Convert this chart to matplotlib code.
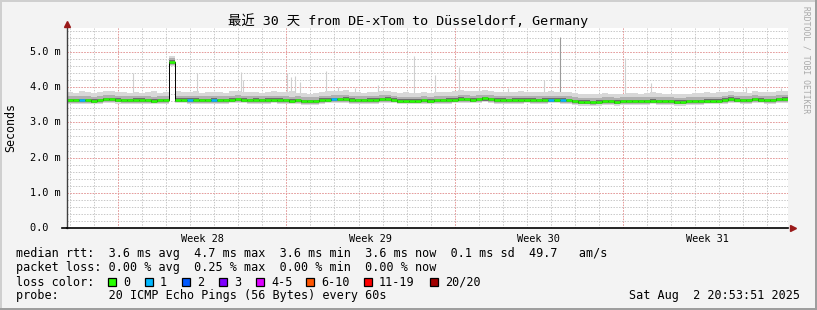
import datetime as dt
import numpy as np
import matplotlib
matplotlib.use("Agg")
import matplotlib.pyplot as plt
from matplotlib.patches import Rectangle

W, H = 817, 310
MONO = "DejaVu Sans Mono"

# time range of the graph
t_end = dt.datetime(2025, 8, 2, 20, 53, 51)
t_start = t_end - dt.timedelta(days=30)
step = 0.25  # days per sample (6 h)

# median rtt in ms, one value per 6 h
median = [
    3.63, 3.63, 3.63, 3.63, 3.62, 3.63, 3.66, 3.66, 3.65, 3.63, 3.63, 3.64, 3.64, 3.63, 3.62, 3.63, 3.63, 4.72, 3.65, 3.65,
    3.64, 3.64, 3.63, 3.63, 3.64, 3.63, 3.63, 3.65, 3.66, 3.65, 3.63, 3.64, 3.63, 3.64, 3.65, 3.64, 3.63, 3.62, 3.63, 3.61,
    3.60, 3.60, 3.64, 3.65, 3.66, 3.66, 3.67, 3.64, 3.63, 3.63, 3.64, 3.64, 3.66, 3.67, 3.65, 3.62, 3.62, 3.62, 3.62, 3.63,
    3.62, 3.63, 3.63, 3.64, 3.65, 3.67, 3.66, 3.65, 3.66, 3.68, 3.66, 3.64, 3.64, 3.63, 3.64, 3.64, 3.65, 3.64, 3.63, 3.64,
    3.65, 3.65, 3.64, 3.63, 3.61, 3.59, 3.59, 3.58, 3.59, 3.60, 3.60, 3.59, 3.60, 3.61, 3.61, 3.60, 3.61, 3.62, 3.61, 3.60,
    3.60, 3.59, 3.59, 3.60, 3.61, 3.61, 3.62, 3.62, 3.62, 3.64, 3.67, 3.65, 3.63, 3.63, 3.66, 3.65, 3.63, 3.63, 3.66, 3.67,
]
# number of lost pings per sample
loss = [
    0, 0, 1, 0, 0, 0, 0, 0, 0, 0, 0, 0, 0, 0, 0, 0, 0, 0, 0, 0,
    1, 0, 0, 0, 1, 0, 0, 0, 0, 0, 0, 0, 0, 0, 0, 0, 0, 0, 0, 0,
    0, 0, 0, 0, 1, 0, 0, 0, 0, 0, 0, 0, 0, 0, 0, 0, 0, 0, 0, 0,
    0, 0, 0, 0, 0, 0, 0, 0, 0, 0, 0, 0, 0, 0, 0, 0, 0, 0, 0, 0,
    1, 0, 1, 0, 0, 0, 0, 0, 0, 0, 0, 0, 0, 0, 0, 0, 0, 0, 0, 0,
    0, 0, 0, 0, 0, 0, 0, 0, 0, 0, 0, 0, 0, 0, 0, 0, 0, 0, 0, 0,
]
# smoke envelope (slowest / fastest ping) in ms
smoke_hi = [
    3.86, 3.84, 3.88, 3.85, 3.83, 3.86, 3.90, 3.88, 3.85, 3.87, 3.84, 3.86, 3.83, 3.85, 3.88, 3.84, 3.86, 4.88, 3.89, 3.86,
    3.85, 3.88, 3.84, 3.86, 3.87, 3.85, 3.84, 3.88, 3.90, 3.87, 3.85, 3.86, 3.84, 3.87, 3.88, 3.86, 3.85, 3.89, 3.84, 3.83,
    3.82, 3.84, 3.87, 3.89, 3.90, 3.88, 3.91, 3.86, 3.85, 3.84, 3.86, 3.87, 3.89, 3.90, 3.87, 3.84, 3.85, 3.83, 3.84, 3.86,
    3.84, 3.85, 3.86, 3.87, 3.89, 3.91, 3.90, 3.88, 3.89, 3.92, 3.89, 3.86, 3.87, 3.85, 3.86, 3.88, 3.87, 3.86, 3.85, 3.87,
    3.88, 3.87, 3.86, 3.85, 3.83, 3.81, 3.82, 3.80, 3.81, 3.83, 3.82, 3.81, 3.82, 3.84, 3.83, 3.82, 3.84, 3.85, 3.83, 3.82,
    3.82, 3.81, 3.80, 3.82, 3.83, 3.84, 3.85, 3.84, 3.85, 3.86, 3.89, 3.87, 3.85, 3.84, 3.88, 3.87, 3.85, 3.86, 3.89, 3.90,
]
smoke_lo = [
    3.52, 3.53, 3.52, 3.52, 3.51, 3.52, 3.54, 3.54, 3.53, 3.52, 3.52, 3.53, 3.53, 3.52, 3.51, 3.52, 3.52, 4.60, 3.54, 3.54,
    3.53, 3.53, 3.52, 3.52, 3.53, 3.52, 3.52, 3.54, 3.55, 3.54, 3.52, 3.53, 3.52, 3.53, 3.54, 3.53, 3.52, 3.51, 3.52, 3.50,
    3.49, 3.49, 3.53, 3.54, 3.55, 3.55, 3.56, 3.53, 3.52, 3.52, 3.53, 3.53, 3.55, 3.56, 3.54, 3.51, 3.51, 3.51, 3.51, 3.52,
    3.51, 3.52, 3.52, 3.53, 3.54, 3.56, 3.55, 3.54, 3.55, 3.57, 3.55, 3.53, 3.53, 3.52, 3.53, 3.53, 3.54, 3.53, 3.52, 3.53,
    3.54, 3.54, 3.53, 3.52, 3.50, 3.48, 3.48, 3.47, 3.48, 3.49, 3.49, 3.48, 3.49, 3.50, 3.50, 3.49, 3.50, 3.51, 3.50, 3.49,
    3.49, 3.48, 3.48, 3.49, 3.50, 3.50, 3.51, 3.51, 3.51, 3.53, 3.56, 3.54, 3.52, 3.52, 3.55, 3.54, 3.52, 3.52, 3.55, 3.56,
]
# single slow pings sticking out of the smoke (day, ms)
spike_day = [2.75, 5.42, 7.25, 7.33, 9.17, 9.33, 9.5, 9.71, 10.79, 11.29, 12.0, 12.92, 14.42,
             15.33, 16.29, 17.13, 18.33, 19.83, 23.21, 24.29, 28.25, 29.71]
spike_top = [4.40, 4.40, 4.43, 4.20, 4.40, 4.29, 4.32, 4.15, 4.46, 4.00, 3.98, 4.06, 4.89,
             4.35, 4.57, 3.98, 3.98, 4.20, 4.83, 4.12, 4.00, 3.97]
dark_spike_day = [20.5]
dark_spike_top = [5.43]

week_labels = ["Week 28", "Week 29", "Week 30", "Week 31"]
y_labels = ["0.0  ", "1.0 m", "2.0 m", "3.0 m", "4.0 m", "5.0 m"]

loss_names = ["0", "1", "2", "3", "4-5", "6-10", "11-19", "20/20"]
loss_colors = ["#26ff00", "#00b8ff", "#0059ff", "#7e00ff", "#dd00ff", "#ff5500", "#ff0000", "#a10000"]

legend_lines = [
    "median rtt:  3.6 ms avg  4.7 ms max  3.6 ms min  3.6 ms now  0.1 ms sd  49.7   am/s",
    "packet loss: 0.00 % avg  0.25 % max  0.00 % min  0.00 % now",
    "loss color:",
    "probe:       20 ICMP Echo Pings (56 Bytes) every 60s",
]
stamp = t_end.strftime("%a %b ") + str(t_end.day).rjust(2) + t_end.strftime(" %H:%M:%S %Y")


def fx(px):
    return px / W


def fy(py):
    return 1 - py / H


fig = plt.figure(figsize=(W / 100, H / 100), dpi=100, facecolor="#f3f3f3")
ax = fig.add_axes([fx(67), fy(228), 721 / W, 200 / H])
ax.set_facecolor("white")
ax.set_xlim(0, 30)
ymax = 200 / 35.2
ax.set_ylim(0, ymax)

# grid, dotted 1px on / 1px off
first_midnight = (dt.datetime(2025, 7, 4) - t_start).total_seconds() / 86400
first_sunday = (dt.datetime(2025, 7, 6) - t_start).total_seconds() / 86400
days_minor = np.arange(first_midnight, 30, 1.0)
days_major = np.arange(first_sunday, 30, 7.0)
grid_kw = dict(lw=0.72, ls=(0, (1.4, 1.4)), snap=True, antialiased=True)
for d in days_minor:
    ax.axvline(d, color="#c8c8c8", zorder=1, **grid_kw)
for v in np.arange(0.2, ymax, 0.2):
    ax.axhline(v, color="#c8c8c8", zorder=1, **grid_kw)
for d in days_major:
    ax.axvline(d, color="#ec9a9a", zorder=1.1, **grid_kw)
for v in range(1, 6):
    ax.axhline(v, color="#ec9a9a", zorder=1.1, **grid_kw)

# smoke
t = np.arange(len(median)) * step
te = np.append(t, 30)
med = np.array(median)
hi = np.array(smoke_hi)
lo = np.array(smoke_lo)


def ext(a):
    return np.append(a, a[-1])


ax.vlines(spike_day, 3.8, spike_top, color="#cfcfcf", lw=0.8, zorder=2)
ax.vlines(dark_spike_day, 3.8, dark_spike_top, color="#9a9a9a", lw=0.8, zorder=2)
ax.fill_between(te, ext(lo), ext(hi), step="post", color="#d8d8d8", lw=0, zorder=2)
ax.fill_between(te, ext(np.maximum(lo, med - 0.08)), ext(np.minimum(hi, med + 0.11)),
                step="post", color="#b0b0b0", lw=0, zorder=2.1)
ax.fill_between(te, ext(med - 0.06), ext(med + 0.04), step="post", color="#6e6e6e", lw=0, zorder=2.2)

# median line coloured by loss
ax.step(te, ext(med), where="post", color="black", lw=0.7, zorder=3)
ax.hlines(med, t, t + step, colors=[loss_colors[l] for l in loss], lw=1.8, zorder=4)

# axes
for s in ["top", "right"]:
    ax.spines[s].set_visible(False)
ax.spines["left"].set_color("#404040")
ax.spines["bottom"].set_color("black")
ax.spines["left"].set_linewidth(1.0)
ax.spines["bottom"].set_linewidth(1.2)
ax.spines["left"].set_zorder(5)
ax.spines["bottom"].set_zorder(5)
ax.plot([-5 / 24, 0], [0, 0], color="black", lw=1.2, clip_on=False, zorder=5)
ax.plot([30.2], [0], marker=">", ms=4.5, color="#9a1a1a", clip_on=False, zorder=6)
ax.plot([0], [ymax + 0.12], marker="^", ms=4.5, color="#9a1a1a", clip_on=False, zorder=6)

ax.set_xticks(days_major + 3.5)
ax.set_xticklabels(week_labels, fontsize=7.4, family=MONO)
ax.set_yticks([])
ax.tick_params(axis="x", length=0, pad=4)

for v, lab in enumerate(y_labels):
    fig.text(fx(30), fy(228 - v * 35.2), lab, fontsize=7.4, family=MONO, ha="left", va="center")

fig.text(fx(11), fy(127), "Seconds", rotation=90, fontsize=8.4, family=MONO, ha="center", va="center")
fig.text(0.5, fy(21), "最近 30 天 from DE-xTom to Düsseldorf, Germany", fontsize=9.6,
         family=[MONO, "Noto Sans CJK SC"], ha="center", va="center")
fig.text(fx(806), fy(60), "RRDTOOL / TOBI OETIKER", rotation=270, fontsize=5.8, family=MONO,
         color="#a8a8a8", ha="center", va="center")

# legend
for i, line in enumerate(legend_lines):
    fig.text(fx(16), fy(254 + i * 14), line, fontsize=8.5, family=MONO, ha="left", va="center")
box_x = [108, 145, 182, 219, 256, 306, 364, 430]
for bx, name, col in zip(box_x, loss_names, loss_colors):
    fig.add_artist(Rectangle((fx(bx), fy(286)), 8 / W, 8 / H, facecolor=col, edgecolor="black", lw=0.9))
    fig.text(fx(bx + 15), fy(282), name, fontsize=8.5, family=MONO, ha="left", va="center")
fig.text(fx(800), fy(296), stamp, fontsize=8.5, family=MONO, ha="right", va="center")

# shaded frame
fig.add_artist(Rectangle((0, fy(2)), 1, 2 / H, facecolor="#cfcfcf", lw=0))
fig.add_artist(Rectangle((0, 0), 2 / W, 1, facecolor="#cfcfcf", lw=0))
fig.add_artist(Rectangle((0, 0), 1, 2 / H, facecolor="#9e9e9e", lw=0))
fig.add_artist(Rectangle((fx(815), 0), 2 / W, 1, facecolor="#9e9e9e", lw=0))

fig.savefig("out.png", dpi=100, facecolor=fig.get_facecolor())
